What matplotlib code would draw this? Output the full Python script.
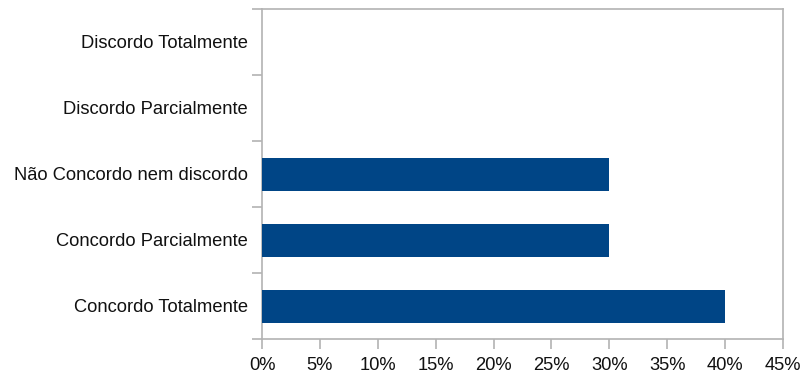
import matplotlib
matplotlib.use("Agg")
import matplotlib.pyplot as plt
from matplotlib.ticker import MultipleLocator, FuncFormatter, FixedLocator

plt.rcParams['font.family'] = ['Liberation Sans', 'DejaVu Sans']

categories = ["Concordo Totalmente", "Concordo Parcialmente",
              "Não Concordo nem discordo", "Discordo Parcialmente",
              "Discordo Totalmente"]
values = [40, 30, 30, 0, 0]

fig = plt.figure(figsize=(8.08, 3.78), dpi=100)
ax = fig.add_axes([262 / 808, 39 / 378, 521 / 808, 330 / 378])

pos = list(range(len(categories)))
ax.barh(pos, values, height=0.5, color="#004586", zorder=3)

ax.set_xlim(0, 45)
ax.set_ylim(-0.5, len(categories) - 0.5)
ax.xaxis.set_major_locator(MultipleLocator(5))
ax.xaxis.set_major_formatter(FuncFormatter(lambda v, _: f"{int(round(v))}%"))

ax.set_yticks(pos)
ax.set_yticklabels(categories)
ax.yaxis.set_minor_locator(FixedLocator([p - 0.5 for p in pos] + [pos[-1] + 0.5]))
ax.tick_params(axis="y", which="major", length=0, pad=10)
ax.tick_params(axis="y", which="minor", length=7, color="#b3b3b3", width=1.2)
ax.tick_params(axis="x", which="major", length=7, color="#b3b3b3", width=1.2, pad=6)
ax.tick_params(labelsize=13.2, labelcolor="#111111")

for s in ax.spines.values():
    s.set_color("#b3b3b3")
    s.set_linewidth(1.2)

fig.savefig("out.png", dpi=100, facecolor="white")
